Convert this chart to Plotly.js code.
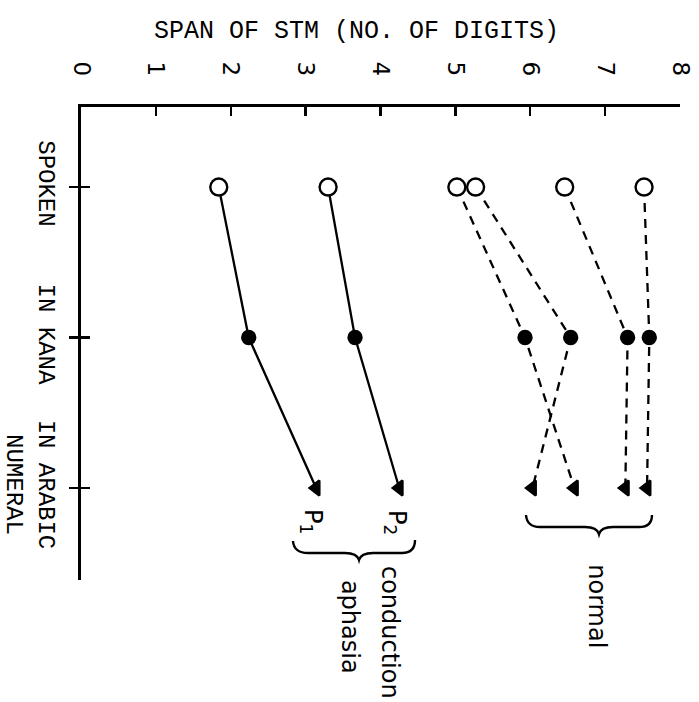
<!DOCTYPE html>
<html>
<head>
<meta charset="utf-8">
<script src="https://cdn.plot.ly/plotly-3.0.1.min.js"></script>
<style>html,body{margin:0;padding:0;background:#fff;}#chart{width:699px;height:702px;}</style>
</head>
<body>
<div id="chart"></div>
<script>
// Categories (0 = spoken, 1 = in kana, 2 = in arabic numeral)
var categories = ["SPOKEN", "IN KANA", "IN ARABIC<br>NUMERAL"];
var catIndex = [0, 1, 2];
var valueTicks = [0, 1, 2, 3, 4, 5, 6, 7, 8];

// Span of STM (no. of digits) per subject
var normal1 = [5.02, 5.93, 6.59];
var normal2 = [5.27, 6.54, 6.03];
var normal3 = [6.46, 7.30, 7.27];
var normal4 = [7.52, 7.59, 7.56];
var patientP2 = [3.30, 3.66, 4.25];
var patientP1 = [1.84, 2.24, 3.14];

var markerSymbols = ["circle", "circle", "triangle-left"];
var markerColors = ["white", "black", "black"];
var markerSizes = [17, 13, 13];

function series(vals, dash) {
  return {
    x: vals, y: catIndex, type: "scatter", mode: "lines+markers",
    line: {color: "black", width: 2.3, dash: dash},
    marker: {symbol: markerSymbols, color: markerColors, size: markerSizes, opacity: 1,
             line: {color: "black", width: 2.4}},
    showlegend: false, hoverinfo: "skip", cliponaxis: false
  };
}

var traces = [
  series(normal1, "9px,7px"),
  series(normal2, "9px,7px"),
  series(normal3, "9px,7px"),
  series(normal4, "9px,7px"),
  series(patientP2, "solid"),
  series(patientP1, "solid"),
  {x: [0], y: [0], yaxis: "y2", type: "scatter", mode: "markers", marker: {opacity: 0}, showlegend: false, hoverinfo: "skip"}
];

var monoFont = {family: "Liberation Mono, DejaVu Sans Mono, monospace", size: 25, color: "black"};
var catFont = {family: "Liberation Mono, DejaVu Sans Mono, monospace", size: 24, color: "black"};
var sansFont = {family: "DejaVu Sans, sans-serif", size: 24, color: "black"};
var yRange = [2.611, -0.532];

function note(text, x, y) {
  return {x: x, y: y, xref: "paper", yref: "paper", text: text, showarrow: false,
          textangle: 90, xanchor: "center", yanchor: "middle", font: sansFont};
}

var layout = {
  width: 699, height: 702,
  paper_bgcolor: "white", plot_bgcolor: "white",
  margin: {l: 81, r: 19, t: 107, b: 122},
  title: {text: "SPAN OF STM (NO. OF DIGITS)", font: monoFont,
          x: 0.51, xref: "container", xanchor: "center",
          y: 0.958, yref: "container", yanchor: "middle"},
  xaxis: {range: [0, 8], side: "top", tickmode: "array", tickvals: valueTicks,
          ticktext: valueTicks.map(String), tickangle: 90,
          ticks: "inside", ticklen: 9, tickwidth: 2.4, tickcolor: "black",
          showline: true, linewidth: 2.8, linecolor: "black",
          showgrid: false, zeroline: false, ticklabelstandoff: 20,
          tickfont: {family: "DejaVu Sans, sans-serif", size: 23, color: "black"}},
  yaxis: {range: yRange, tickmode: "array", tickvals: catIndex, ticktext: categories,
          tickangle: 90, ticks: "outside", ticklen: 9, tickwidth: 2.4, tickcolor: "black",
          showline: true, linewidth: 2.6, linecolor: "black",
          showgrid: false, zeroline: false, ticklabelstandoff: 2,
          tickfont: catFont},
  yaxis2: {range: yRange, overlaying: "y", side: "left", anchor: "x",
           tickmode: "array", tickvals: catIndex, showticklabels: false,
           ticks: "inside", ticklen: 9, tickwidth: 2.4, tickcolor: "black",
           showline: false, showgrid: false, zeroline: false},
  annotations: [
    {x: 4.207, y: 2.226, xref: "x", yref: "y", text: "P<sub>2</sub>", showarrow: false, textangle: 90, xanchor: "center", yanchor: "middle", font: {family: "DejaVu Sans, sans-serif", size: 24, color: "black"}},
    {x: 3.085, y: 2.226, xref: "x", yref: "y", text: "P<sub>1</sub>", showarrow: false, textangle: 90, xanchor: "center", yanchor: "middle", font: {family: "DejaVu Sans, sans-serif", size: 24, color: "black"}},
    note("conduction", 0.516, -0.11),
    note("aphasia", 0.449, -0.099),
    note("normal", 0.861, -0.055)
  ],
  shapes: [
    {type: "path", xref: "x", yref: "y", line: {color: "black", width: 2.4},
     path: "M 5.943,2.179 Q 5.957,2.259 6.13,2.259 L 6.731,2.259 Q 6.891,2.259 6.918,2.306 Q 6.945,2.259 7.105,2.259 L 7.452,2.259 Q 7.626,2.259 7.626,2.179"},
    {type: "path", xref: "x", yref: "y", line: {color: "black", width: 2.4},
     path: "M 2.831,2.352 Q 2.845,2.432 3.032,2.432 L 3.526,2.432 Q 3.686,2.432 3.713,2.478 Q 3.74,2.432 3.9,2.432 L 4.287,2.432 Q 4.461,2.432 4.461,2.346"}
  ]
};

Plotly.newPlot("chart", traces, layout, {staticPlot: true, displayModeBar: false});
</script>
</body>
</html>
